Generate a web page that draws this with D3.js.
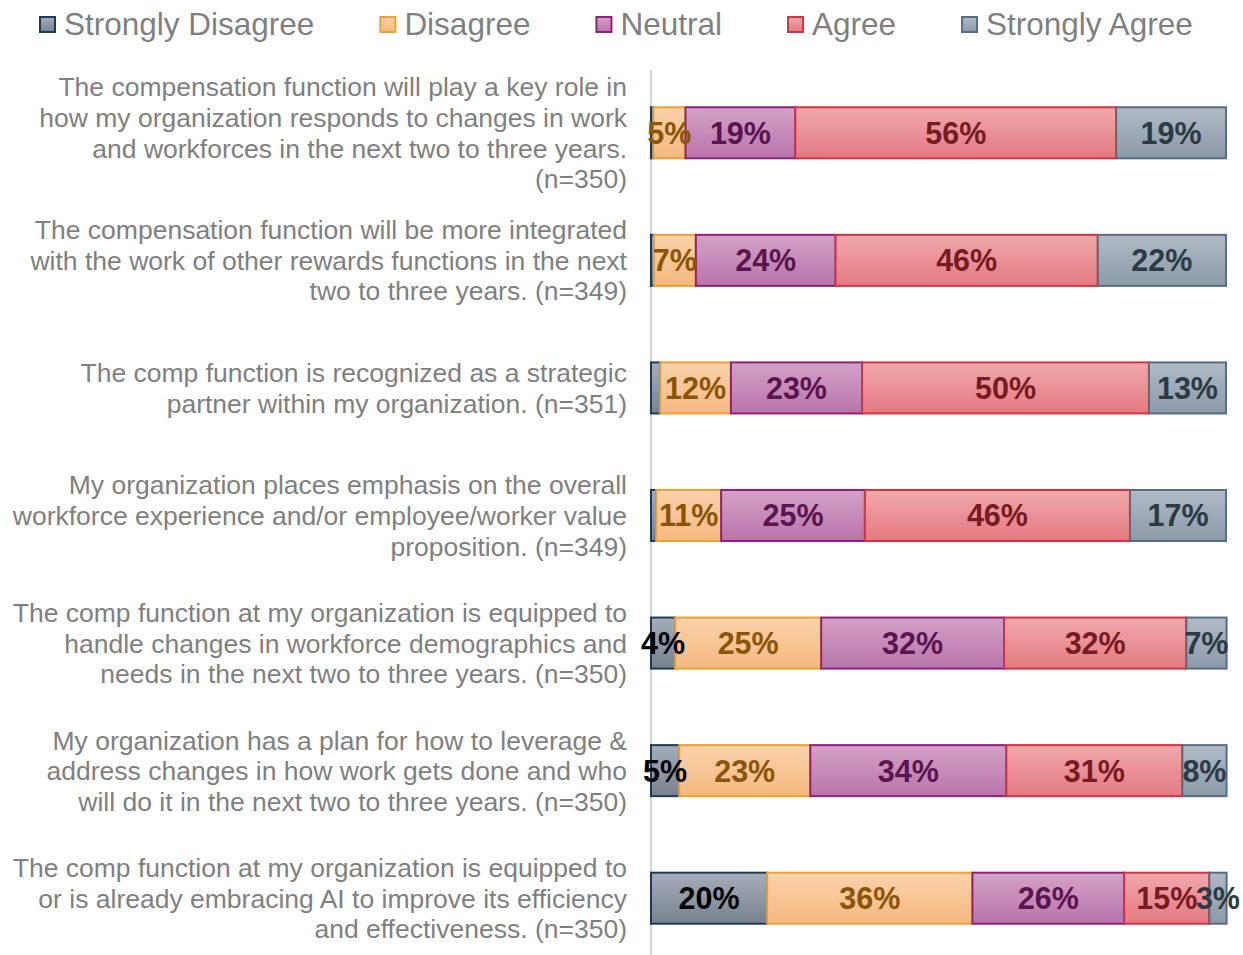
<!DOCTYPE html>
<html>
<head>
<meta charset="utf-8">
<script src="https://cdn.jsdelivr.net/npm/d3@7"></script>
<style>
  html, body { margin: 0; padding: 0; background: #fff; }
  svg { display: block; font-family: "Liberation Sans", Arial, sans-serif; }
</style>
</head>
<body>
<div id="chart"></div>
<script>
// questions, one array of lines each
const categories = [
  ["The compensation function will play a key role in", "how my organization responds to changes in work", "and workforces in the next two to three years.", "(n=350)"],
  ["The compensation function will be more integrated", "with the work of other rewards functions in the next", "two to three years. (n=349)"],
  ["The comp function is recognized as a strategic", "partner within my organization. (n=351)"],
  ["My organization places emphasis on the overall", "workforce experience and/or employee/worker value", "proposition. (n=349)"],
  ["The comp function at my organization is equipped to", "handle changes in workforce demographics and", "needs in the next two to three years. (n=350)"],
  ["My organization has a plan for how to leverage &", "address changes in how work gets done and who", "will do it in the next two to three years. (n=350)"],
  ["The comp function at my organization is equipped to", "or is already embracing AI to improve its efficiency", "and effectiveness. (n=350)"]
];

const seriesNames = ["Strongly Disagree", "Disagree", "Neutral", "Agree", "Strongly Agree"];

// shares in percent
const stronglyDisagree = [0.4, 0.5, 1.6, 0.9, 4.2, 4.9, 20.2];
const disagree         = [5.6, 7.3, 12.3, 11.3, 25.4, 22.8, 35.7];
const neutral          = [19.1, 24.3, 22.8, 25.0, 31.8, 34.1, 26.4];
const agree            = [55.8, 45.6, 49.9, 46.1, 31.7, 30.6, 14.8];
const stronglyAgree    = [19.1, 22.3, 13.4, 16.7, 7.0, 7.7, 3.0];

// printed labels (null = not shown)
const sdLabels = [null, null, null, null, "4%", "5%", "20%"];
const dLabels  = ["5%", "7%", "12%", "11%", "25%", "23%", "36%"];
const nLabels  = ["19%", "24%", "23%", "25%", "32%", "34%", "26%"];
const aLabels  = ["56%", "46%", "50%", "46%", "32%", "31%", "15%"];
const saLabels = ["19%", "22%", "13%", "17%", "7%", "8%", "3%"];

const seriesValues = [stronglyDisagree, disagree, neutral, agree, stronglyAgree];
const seriesLabels = [sdLabels, dLabels, nLabels, aLabels, saLabels];

const styles = [
  { top: "#a5adb9", bottom: "#78828f", stroke: "#1f3a5a", text: "#000000" },
  { top: "#fbd2ab", bottom: "#f5b880", stroke: "#f0a030", text: "#8a5508" },
  { top: "#d4a2c7", bottom: "#b874a9", stroke: "#901f82", text: "#5a1450" },
  { top: "#f0a9ac", bottom: "#e37980", stroke: "#d8323f", text: "#781a24" },
  { top: "#b1bbc6", bottom: "#8c99a8", stroke: "#566d82", text: "#2b3a45" }
];

const width = 1243, height = 955;
const svg = d3.select("#chart").append("svg")
  .attr("width", width).attr("height", height);

const defs = svg.append("defs");
styles.forEach((s, i) => {
  const g = defs.append("linearGradient").attr("id", "grad" + i)
    .attr("x1", 0).attr("y1", 0).attr("x2", 0).attr("y2", 1);
  g.append("stop").attr("offset", "0%").attr("stop-color", s.top);
  g.append("stop").attr("offset", "100%").attr("stop-color", s.bottom);
});

// table for stacking
const table = categories.map((c, i) => {
  const row = { idx: i };
  seriesNames.forEach((n, j) => row[n] = seriesValues[j][i]);
  return row;
});
const stacked = d3.stack().keys(seriesNames)(table);

const x = d3.scaleLinear().domain([0, 100]).range([651, 1226]);
const y = d3.scaleBand().domain(d3.range(categories.length))
  .range([69, 962]).paddingInner(0.6).paddingOuter(0.3);

// vertical axis line
svg.append("line")
  .attr("x1", 651).attr("x2", 651).attr("y1", 70).attr("y2", 955)
  .attr("stroke", "#d9d9d9").attr("stroke-width", 2.5);

// bars
const layer = svg.append("g").selectAll("g").data(stacked).join("g")
  .attr("fill", (d, i) => `url(#grad${i})`)
  .attr("stroke", (d, i) => styles[i].stroke)
  .attr("stroke-width", 2);

layer.selectAll("rect").data(d => d).join("rect")
  .attr("x", d => x(d[0]))
  .attr("y", d => y(d.data.idx))
  .attr("width", d => x(d[1]) - x(d[0]))
  .attr("height", y.bandwidth());

// value labels
stacked.forEach((s, i) => {
  svg.append("g").selectAll("text").data(s).join("text")
    .filter(d => seriesLabels[i][d.data.idx] !== null)
    .attr("x", d => (x(d[0]) + x(d[1])) / 2)
    .attr("y", d => y(d.data.idx) + y.bandwidth() / 2)
    .attr("dy", "0.36em")
    .attr("text-anchor", "middle")
    .attr("font-size", "30.5px")
    .attr("font-weight", "bold")
    .attr("fill", styles[i].text)
    .text(d => seriesLabels[i][d.data.idx]);
});

// category labels
const lineH = 30.6;
svg.append("g").selectAll("text").data(categories).join("text")
  .attr("text-anchor", "end")
  .attr("font-size", "26.5px")
  .attr("fill", "#7f7f7f")
  .each(function (lines, i) {
    const cy = y(i) + y.bandwidth() / 2;
    const y0 = cy - (lines.length - 1) * lineH / 2;
    d3.select(this).selectAll("tspan").data(lines).join("tspan")
      .attr("x", 627)
      .attr("y", (l, k) => y0 + k * lineH)
      .attr("dy", "0.36em")
      .text(l => l);
  });

// legend
const legend = svg.append("g");
let lx = 40;
seriesNames.forEach((n, i) => {
  legend.append("rect")
    .attr("x", lx).attr("y", 17).attr("width", 15).attr("height", 15)
    .attr("fill", `url(#grad${i})`)
    .attr("stroke", styles[i].stroke).attr("stroke-width", 2);
  const t = legend.append("text")
    .attr("x", lx + 24).attr("y", 35)
    .attr("font-size", "31.5px")
    .attr("fill", "#7f7f7f")
    .text(n);
  lx += 24 + t.node().getComputedTextLength() + 66;
});
</script>
</body>
</html>
